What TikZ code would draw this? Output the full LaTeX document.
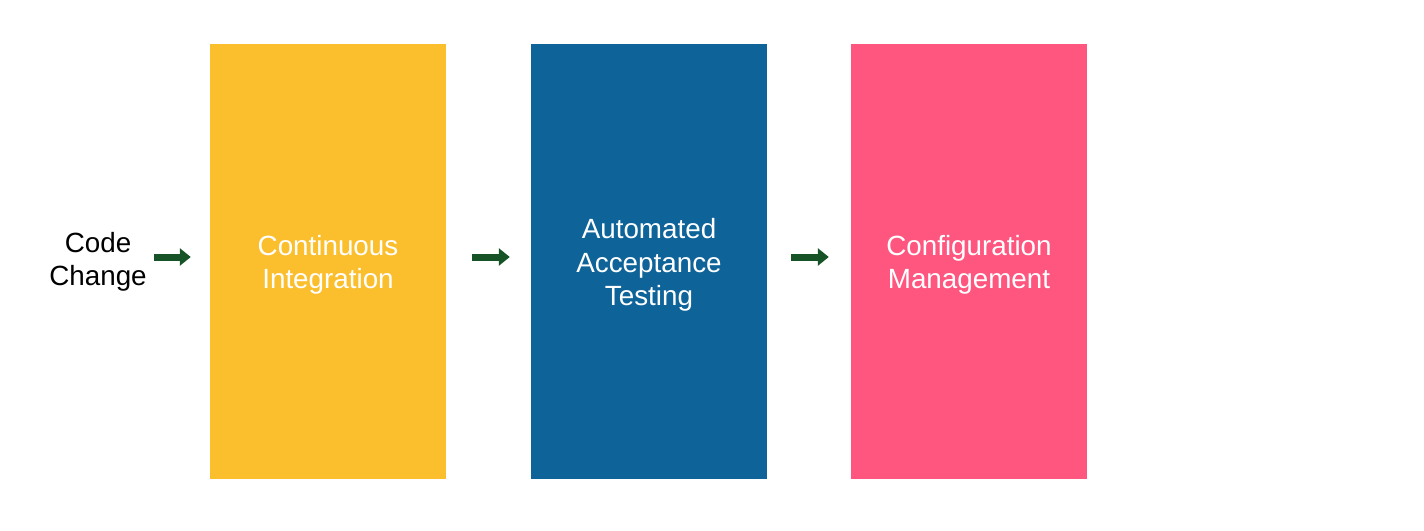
\documentclass[tikz,border=0pt]{standalone}
\usepackage{fontspec}
\setmainfont{Liberation Sans}
\usetikzlibrary{arrows.meta}
\definecolor{ciyellow}{RGB}{251,191,46}
\definecolor{aatblue}{RGB}{14,99,153}
\definecolor{cmpink}{RGB}{255,86,128}
\definecolor{arrgreen}{RGB}{22,84,40}
\tikzset{
  stagebox/.style={fill=#1, draw=none, minimum width=236pt, minimum height=435pt,
    inner sep=0pt},
  boxtext/.style={align=center, text=white, inner sep=0pt, yshift=-3.5pt,
    font=\fontsize{27.8}{33.6}\selectfont},
  flowarrow/.style={draw=arrgreen, line width=7pt,
    -{Triangle[length=11pt,width=17pt]}},
}
\begin{document}
\begin{tikzpicture}[x=1pt,y=-1pt]
\useasboundingbox (0,0) rectangle (1424,530);
\node[stagebox=ciyellow, label={[boxtext]center:{Continuous\\Integration}}] (ci) at (328,261.5) {};
\node[stagebox=aatblue, label={[boxtext]center:{Automated\\Acceptance\\Testing}}] (aat) at (649,261.5) {};
\node[stagebox=cmpink, label={[boxtext]center:{Configuration\\Management}}] (cm) at (969,261.5) {};
\node[align=center, font=\fontsize{27.8}{33.6}\selectfont, inner sep=0pt] (code) at (98,262) {Code\\Change};
\coordinate (a1s) at (154,257);
\coordinate (a1e) at (ci.west |- a1s);
\draw[flowarrow, shorten >=19pt] (a1s) -- (a1e);
\coordinate (a2s) at (ci.east |- a1s);
\coordinate (a2e) at (aat.west |- a1s);
\draw[flowarrow, shorten <=26pt, shorten >=21pt] (a2s) -- (a2e);
\coordinate (a3s) at (aat.east |- a1s);
\coordinate (a3e) at (cm.west |- a1s);
\draw[flowarrow, shorten <=24pt, shorten >=22pt] (a3s) -- (a3e);
\end{tikzpicture}
\end{document}
